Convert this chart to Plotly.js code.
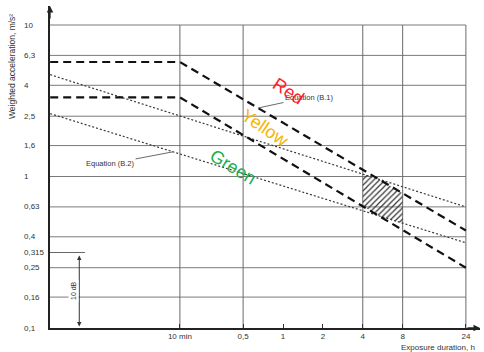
<!DOCTYPE html>
<html>
<head>
<meta charset="utf-8">
<script src="https://cdn.plot.ly/plotly-3.0.1.min.js"></script>
<style>html,body{margin:0;padding:0;background:#fff}#chart{width:484px;height:352px}</style>
</head>
<body>
<div id="chart"></div>
<script>
// ---- data ----
const timeTicks = [1/6, 0.5, 1, 2, 4, 8, 24];
const timeLabels = ['10 min', '0,5', '1', '2', '4', '8', '24'];
const gridTimes = [1/6, 0.5, 4, 8, 24];
const accelTicks = [10, 6.3, 4, 2.5, 1.6, 1, 0.63, 0.4, 0.315, 0.25, 0.16, 0.1];
const accelLabels = ['10', '6,3', '4', '2,5', '1,6', '1', '0,63', '0,4', '0,315', '0,25', '0,16', '0,1'];
const gridAccel = [10, 6.3, 4, 2.5, 1.6, 1, 0.63, 0.4, 0.25, 0.16];

// Equation (B.1) caution zone bounds (dashed)
const b1Time = [0.0175, 1/6, 24];
const b1Upper = [5.7, 5.7, 0.44];
const b1Lower = [3.33, 3.33, 0.25];
// Equation (B.2) caution zone bounds (dotted)
const b2Time = [0.0175, 24];
const b2Upper = [4.7, 0.63];
const b2Lower = [2.6, 0.365];
// hatched overlap between 4 h and 8 h
const hatchTime = [4, 8];
// 10 dB span
const dbSpan = [0.1, 0.315];

// ---- geometry helpers ----
const L = Math.log10;
const xRange = [-1.7585, 1.4868];
const yRange = [-1, 1.1254];
const PL = 50, PT = 6, PW = 430, PH = 322;
const px = p => (p - PL) / PW;
const py = p => (PT + PH - p) / PH;

function evalLL(xs, ys, t) {
  const lt = L(t);
  for (let i = 0; i < xs.length - 1; i++) {
    const a = L(xs[i]), b = L(xs[i + 1]);
    if (lt >= a && lt <= b) {
      const f = (lt - a) / (b - a);
      return Math.pow(10, L(ys[i]) + f * (L(ys[i + 1]) - L(ys[i])));
    }
  }
  return ys[ys.length - 1];
}
function crossAt(f, g, t0, t1) {
  let a = L(t0), b = L(t1);
  const d = lt => L(f(Math.pow(10, lt))) - L(g(Math.pow(10, lt)));
  for (let i = 0; i < 60; i++) {
    const m = (a + b) / 2;
    if (d(a) * d(m) <= 0) b = m; else a = m;
  }
  return Math.pow(10, (a + b) / 2);
}
const fU1 = t => evalLL(b1Time, b1Upper, t);
const fL1 = t => evalLL(b1Time, b1Lower, t);
const fU2 = t => evalLL(b2Time, b2Upper, t);
const fL2 = t => evalLL(b2Time, b2Lower, t);
const zoneTop = t => Math.min(fU1(t), fU2(t));
const zoneBot = t => Math.max(fL1(t), fL2(t));
const tcTop = crossAt(fU1, fU2, hatchTime[0], hatchTime[1]);
const tcBot = crossAt(fL1, fL2, hatchTime[0], hatchTime[1]);
const hx = [hatchTime[0], tcTop, hatchTime[1], hatchTime[1], tcBot, hatchTime[0], hatchTime[0]];
const hy = [zoneTop(hatchTime[0]), zoneTop(tcTop), zoneTop(hatchTime[1]), zoneBot(hatchTime[1]), zoneBot(tcBot), zoneBot(hatchTime[0]), zoneTop(hatchTime[0])];

const dashStyle = {color: '#111', width: 2.2, dash: '8px,5px'};
const dotStyle = {color: '#3a3a3a', width: 1.2, dash: '2px,2px'};

const traces = [
  {x: hx, y: hy, mode: 'lines', fill: 'toself', line: {width: 0, color: 'rgba(0,0,0,0)'},
   fillcolor: 'rgba(0,0,0,0)',
   fillpattern: {shape: '/', fgcolor: '#333', bgcolor: 'rgba(255,255,255,0)', size: 4, solidity: 0.3},
   hoverinfo: 'skip'},
  {x: b2Time, y: b2Upper, mode: 'lines', line: dotStyle},
  {x: b2Time, y: b2Lower, mode: 'lines', line: dotStyle},
  {x: b1Time, y: b1Upper, mode: 'lines', line: dashStyle},
  {x: b1Time, y: b1Lower, mode: 'lines', line: dashStyle}
];

const tLeft = Math.pow(10, xRange[0]);
const shapes = [];
gridAccel.forEach(v => shapes.push({type: 'line', xref: 'x', yref: 'y', x0: tLeft, x1: 24, y0: v, y1: v,
  line: {color: '#7a7a7a', width: 1}, layer: 'below'}));
gridTimes.forEach(v => shapes.push({type: 'line', xref: 'x', yref: 'y', x0: v, x1: v, y0: 0.1, y1: 10,
  line: {color: '#6a6a6a', width: 1}, layer: 'below'}));
shapes.push({type: 'line', xref: 'x', yref: 'y', x0: tLeft, x1: 0.032, y0: dbSpan[1], y1: dbSpan[1],
  line: {color: '#666', width: 1}});

const FONT = 'Liberation Sans, Arial, sans-serif';
const ann = [];
accelTicks.forEach((v, i) => ann.push({xref: 'paper', yref: 'y', x: px(22), y: L(v), xanchor: 'left', yanchor: 'middle',
  text: accelLabels[i], showarrow: false, font: {family: FONT, size: 8, color: '#333'}}));
// axis titles
ann.push({xref: 'paper', yref: 'paper', x: px(12), y: py(67), xanchor: 'center', yanchor: 'middle',
  text: 'Weighted acceleration, m/s²', textangle: -90,
  showarrow: false, font: {family: FONT, size: 8.5, color: '#333'}});
ann.push({xref: 'paper', yref: 'paper', x: px(399), y: py(348), xanchor: 'left', yanchor: 'middle', text: 'Exposure duration, h',
  showarrow: false, font: {family: FONT, size: 8, color: '#333'}});
// axis arrows
ann.push({xref: 'paper', yref: 'paper', x: 0, y: 1, ax: 0, ay: 14, text: '', showarrow: true, arrowhead: 2, arrowsize: 1, arrowwidth: 1.3, arrowcolor: '#222'});
ann.push({xref: 'paper', yref: 'paper', x: 1, y: 0, ax: -14, ay: 0, text: '', showarrow: true, arrowhead: 2, arrowsize: 1, arrowwidth: 1.3, arrowcolor: '#222'});
// 10 dB
const dbT = 0.029;
ann.push({xref: 'x', yref: 'y', axref: 'x', ayref: 'y', x: L(dbT), y: L(dbSpan[0]) + 0.01, ax: L(dbT), ay: L(dbSpan[1]) - 0.01,
  text: '', showarrow: true, arrowside: 'end+start', arrowhead: 2, arrowsize: 0.9, arrowwidth: 1, arrowcolor: '#333'});
ann.push({xref: 'paper', yref: 'paper', x: px(73), y: py(291), xanchor: 'center', yanchor: 'middle', text: '10 dB', textangle: -90, showarrow: false,
  bgcolor: '#fff', borderpad: 1, font: {family: FONT, size: 7, color: '#333'}});
// equation labels with leaders
const tB2 = 0.148, tB1 = 0.648;
ann.push({xref: 'x', yref: 'y', x: L(tB2), y: L(fL2(tB2)), ax: -63, ay: 12, text: 'Equation (B.2)', showarrow: true,
  arrowhead: 0, arrowwidth: 0.8, arrowcolor: '#444', standoff: 0,
  font: {family: FONT, size: 7.5, color: '#333'}});
ann.push({xref: 'x', yref: 'y', x: L(tB1), y: L(fU1(tB1)), ax: 51, ay: -11, text: 'Equation (B.1)', showarrow: true,
  arrowhead: 0, arrowwidth: 0.8, arrowcolor: '#444', standoff: 0,
  font: {family: FONT, size: 7.5, color: '#333'}});
// coloured zone words
const wordFont = (c) => ({family: FONT, size: 18, color: c});
ann.push({xref: 'paper', yref: 'paper', x: px(288), y: py(91), xanchor: 'center', yanchor: 'middle', text: 'Red', textangle: 33, showarrow: false, font: wordFont('#ff2030')});
ann.push({xref: 'paper', yref: 'paper', x: px(265), y: py(128), xanchor: 'center', yanchor: 'middle', text: 'Yellow', textangle: 34, showarrow: false, font: wordFont('#f5b400')});
ann.push({xref: 'paper', yref: 'paper', x: px(233), y: py(167), xanchor: 'center', yanchor: 'middle', text: 'Green', textangle: 31, showarrow: false, font: wordFont('#1cae4a')});

const layout = {
  width: 484, height: 352,
  margin: {l: PL, r: 484 - PL - PW, t: PT, b: 352 - PT - PH},
  paper_bgcolor: '#fff', plot_bgcolor: '#fff',
  showlegend: false,
  xaxis: {type: 'log', range: xRange, tickvals: timeTicks, ticktext: timeLabels, ticks: 'inside', ticklen: 4,
    tickcolor: '#333', tickwidth: 1, showgrid: false, zeroline: false, showline: true, linecolor: '#222', linewidth: 1.5,
    tickfont: {family: FONT, size: 8, color: '#333'}, fixedrange: true},
  yaxis: {type: 'log', range: yRange, showticklabels: false, ticks: '', showgrid: false, zeroline: false,
    showline: true, linecolor: '#222', linewidth: 1.8, fixedrange: true},
  shapes: shapes,
  annotations: ann
};
Plotly.newPlot('chart', traces, layout, {staticPlot: true, displayModeBar: false});
</script>
</body>
</html>
